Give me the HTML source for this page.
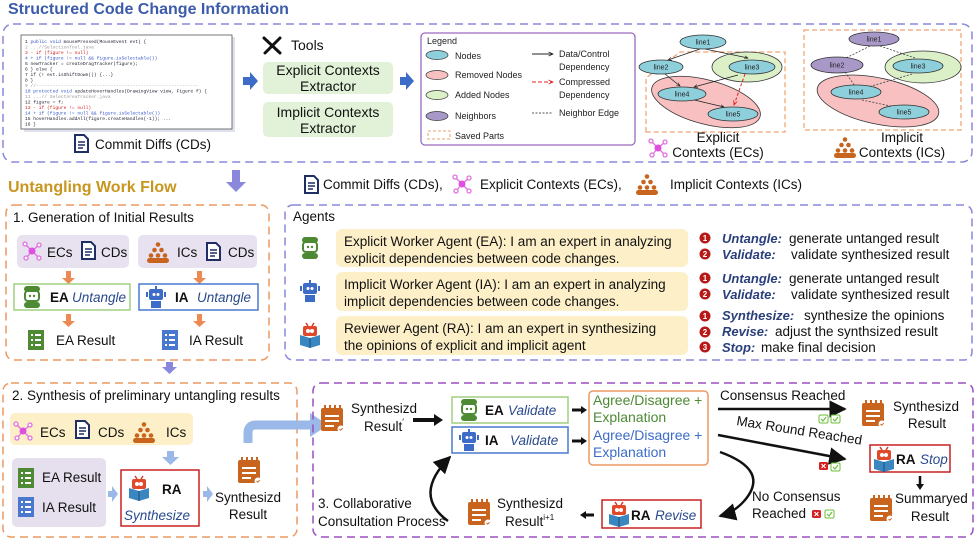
<!DOCTYPE html>
<html><head><meta charset="utf-8"><style>
html,body{margin:0;padding:0;background:#fff;}
svg{display:block;font-family:"Liberation Sans",sans-serif;}
.t{font-size:13.5px;fill:#111;}
.s{font-size:9px;fill:#222;}
.n{font-size:7px;fill:#222;}
.iv{font-style:italic;fill:#2a4a8e;}
.lbl{font-style:italic;font-weight:bold;fill:#2a3f7a;font-size:13px;}
</style></head><body>
<svg width="976" height="540" viewBox="0 0 976 540" xmlns="http://www.w3.org/2000/svg">
<defs>
 <marker id="ah" viewBox="0 0 10 10" refX="9" refY="5" markerWidth="7" markerHeight="7" orient="auto"><path d="M0,0L10,5L0,10z" fill="#111"/></marker>
 <marker id="ahs" viewBox="0 0 10 10" refX="9" refY="5" markerWidth="5" markerHeight="5" orient="auto"><path d="M0,1L9,5L0,9" fill="none" stroke="#222" stroke-width="1.5"/></marker>
 <marker id="ahr" viewBox="0 0 10 10" refX="9" refY="5" markerWidth="5" markerHeight="5" orient="auto"><path d="M0,1L9,5L0,9" fill="none" stroke="#e02020" stroke-width="1.5"/></marker>
 <g id="doc"><path d="M1,1h9l4,4v13h-13z" fill="#fff" stroke="#1f2f66" stroke-width="2"/><path d="M4,8h7M4,11h7M4,14h5" stroke="#1f2f66" stroke-width="1.5"/></g>
 <g id="clip"><rect x="0" y="3" width="22" height="23" rx="2" fill="#c8641e"/><path d="M4,0v6M9,0v6M14,0v6M19,0v6" stroke="#c8641e" stroke-width="2"/><path d="M4,11h14M4,16h14M4,21h9" stroke="#fff" stroke-width="2"/><circle cx="20" cy="24" r="3.5" fill="#fff"/><path d="M18.5,24l1.2,1.2l2-2" stroke="#c8641e" stroke-width="1" fill="none"/></g>
 <g id="resg"><rect x="0" y="0" width="16" height="20" fill="#4e8a34"/><path d="M3,5h2M7,5h6M3,10h2M7,10h6M3,15h2M7,15h6" stroke="#fff" stroke-width="2"/></g>
 <g id="resb"><rect x="0" y="0" width="16" height="20" fill="#4a78cf"/><path d="M3,5h2M7,5h6M3,10h2M7,10h6M3,15h2M7,15h6" stroke="#fff" stroke-width="2"/></g>
 <g id="net"><g stroke="#e070e0" stroke-width="1.3" fill="#fff"><path d="M10,10L3,3M10,10L17,4M10,10L4,17M10,10L17,17" /><circle cx="3" cy="3" r="2"/><circle cx="17" cy="4" r="2"/><circle cx="4" cy="17" r="2"/><circle cx="17" cy="17" r="2"/></g><circle cx="10" cy="10" r="3.5" fill="#e050e0"/></g>
 <g id="ppl" fill="#c8641e"><circle cx="11" cy="2.5" r="2.3"/><circle cx="7.5" cy="8" r="2.3"/><circle cx="14.5" cy="8" r="2.3"/><circle cx="4" cy="13.5" r="2.3"/><circle cx="11" cy="13.5" r="2.3"/><circle cx="18" cy="13.5" r="2.3"/><rect x="0" y="16" width="22" height="5" rx="2.5"/></g>
 <g id="ea"><rect x="2" y="0" width="16" height="6" rx="3" fill="#4e8a34"/><rect x="3" y="5" width="14" height="10" rx="3" fill="#fff" stroke="#4e8a34" stroke-width="2"/><circle cx="8" cy="10" r="1.2" fill="#4e8a34"/><circle cx="12" cy="10" r="1.2" fill="#4e8a34"/><rect x="2" y="16" width="16" height="6" rx="3" fill="#4e8a34"/></g>
 <g id="ia"><rect x="9" y="0" width="2" height="4" fill="#3d6cc8"/><rect x="3" y="3" width="14" height="11" rx="2" fill="#3d6cc8"/><circle cx="8" cy="8.5" r="1.5" fill="#fff"/><circle cx="12" cy="8.5" r="1.5" fill="#fff"/><rect x="0" y="6" width="2" height="5" fill="#3d6cc8"/><rect x="18" y="6" width="2" height="5" fill="#3d6cc8"/><rect x="5" y="15" width="10" height="7" fill="#3d6cc8"/></g>
 <g id="ra"><path d="M6,0l2,3M14,0l-2,3" stroke="#d23a2a" stroke-width="1.5"/><rect x="3" y="3" width="14" height="10" rx="2" fill="#e04a2a"/><circle cx="8" cy="8" r="2" fill="#fff"/><circle cx="12" cy="8" r="2" fill="#fff"/><path d="M0,12l10,3l10,-3v10l-10,3l-10,-3z" fill="#3a86c0"/><path d="M10,15v10" stroke="#1a4a7a"/></g>
 <g id="ck"><rect width="9" height="8" rx="1.5" fill="#fff" stroke="#6cbf3a"/><path d="M2,4l2,2l3,-4" stroke="#6cbf3a" fill="none" stroke-width="1.2"/></g>
 <g id="cx"><rect width="9" height="8" rx="1.5" fill="#d42020"/><path d="M2.5,2l4,4M6.5,2l-4,4" stroke="#fff" stroke-width="1.2"/></g>
 <g id="num"><circle r="5.5" fill="#b81818"/></g>
</defs>

<text x="8" y="14" font-size="16" font-weight="bold" fill="#3c5bab">Structured Code Change Information</text>
<rect x="3" y="24" width="969" height="138" rx="10" fill="none" stroke="#8a88dc" stroke-width="1.5" stroke-dasharray="8,5"/>

<rect x="24" y="37" width="211" height="95" fill="#dfe2ee"/>
<rect x="21" y="35" width="211" height="94" fill="#fff" stroke="#555" stroke-width="0.8"/>
<g font-family="Liberation Mono,monospace" font-size="4.6" fill="#223">
<text x="25" y="43">1  <tspan fill="#3355cc">public void</tspan> mousePressed(MouseEvent evt) {</text>
<text x="25" y="48.5" fill="#999">2      ...//SelectionTool.java</text>
<text x="25" y="54" fill="#d02020">3  - if (figure != null)</text>
<text x="25" y="59.5" fill="#3355cc">4  + if (figure != null &amp;&amp; figure.isSelectable())</text>
<text x="25" y="65">5          newTracker = createDragTracker(figure);</text>
<text x="25" y="70.5">6      } else {</text>
<text x="25" y="76">7          if (! evt.isShiftDown()) {...}</text>
<text x="25" y="81.5">8  }</text>
<text x="25" y="87" fill="#999">9  //-----------------------------------------------------------</text>
<text x="25" y="92.5"><tspan fill="#3355cc">10 protected void</tspan> updateHoverHandles(DrawingView view, Figure f) {</text>
<text x="25" y="98" fill="#999">11     ...// SelectAreaTracker.java</text>
<text x="25" y="103.5">12   figure = f;</text>
<text x="25" y="109" fill="#d02020">13 - if (figure != null)</text>
<text x="25" y="114.5" fill="#3355cc">14 + if (figure != null &amp;&amp; figure.isSelectable())</text>
<text x="25" y="120">15       hoverHandles.addAll(figure.createHandles(-1)); ...</text>
<text x="25" y="125.5">16 }</text>
</g>
<use href="#doc" x="74" y="134"/>
<text x="95" y="149" class="t">Commit Diffs (CDs)</text>

<g stroke="#111" stroke-width="3" stroke-linecap="round"><path d="M264,38L280,53M280,38L265,53"/></g>
<text x="291" y="50" font-size="14" fill="#111">Tools</text>
<rect x="263" y="62" width="130" height="32" rx="5" fill="#e2f2d8"/>
<text x="328" y="75" font-size="14" text-anchor="middle" fill="#111">Explicit Contexts</text>
<text x="328" y="91" font-size="14" text-anchor="middle" fill="#111">Extractor</text>
<rect x="263" y="102" width="130" height="35" rx="5" fill="#e2f2d8"/>
<text x="328" y="117" font-size="14" text-anchor="middle" fill="#111">Implicit Contexts</text>
<text x="328" y="133" font-size="14" text-anchor="middle" fill="#111">Extractor</text>
<path d="M243,77h7v-5l8,9l-8,9v-5h-7z" fill="#3d6cc8"/>
<path d="M400,77h6v-5l8,9l-8,9v-5h-6z" fill="#3d6cc8"/>

<rect x="421" y="33" width="214" height="112" rx="4" fill="#fff" stroke="#9a6ac0" stroke-width="1.3"/>
<text x="427" y="44" class="s">Legend</text>
<ellipse cx="437" cy="55" rx="11" ry="4.5" fill="#8ecfdc" stroke="#333" stroke-width="0.7"/><text x="455" y="59" class="s">Nodes</text>
<ellipse cx="437" cy="75" rx="11" ry="4.5" fill="#f8c0c0" stroke="#333" stroke-width="0.7"/><text x="455" y="78" class="s">Removed Nodes</text>
<ellipse cx="437" cy="95" rx="11" ry="4.5" fill="#dcf0c8" stroke="#333" stroke-width="0.7"/><text x="455" y="98" class="s">Added Nodes</text>
<ellipse cx="437" cy="116" rx="11" ry="4.5" fill="#a898c8" stroke="#333" stroke-width="0.7"/><text x="455" y="119" class="s">Neighbors</text>
<rect x="428" y="131" width="22" height="8" fill="none" stroke="#f0a070" stroke-dasharray="3,2"/><text x="455" y="139" class="s">Saved Parts</text>
<path d="M532,54h21" stroke="#222" marker-end="url(#ahs)"/><text x="559" y="57" class="s">Data/Control</text><text x="559" y="70" class="s">Dependency</text>
<path d="M532,82h21" stroke="#e02020" stroke-dasharray="4,2" marker-end="url(#ahr)"/><text x="559" y="85" class="s">Compressed</text><text x="559" y="98" class="s">Dependency</text>
<path d="M532,113h21" stroke="#555" stroke-dasharray="2,1.5"/><text x="559" y="116" class="s">Neighbor Edge</text>

<path d="M646,132V78L680,52H785V132z" fill="none" stroke="#f0a070" stroke-width="1.2" stroke-dasharray="5,3"/>
<ellipse cx="706" cy="102" rx="56" ry="22" transform="rotate(15 706 102)" fill="#f8c0c0" stroke="#333" stroke-width="0.8"/>
<ellipse cx="747" cy="67" rx="35" ry="15" fill="#dcf0c8" stroke="#333" stroke-width="0.8"/>
<g stroke="#222" stroke-width="0.8" fill="none">
<path d="M700,49L668,60" marker-end="url(#ahs)"/><path d="M705,49L748,58" marker-end="url(#ahs)"/>
<path d="M665,74L680,86" marker-end="url(#ahs)"/><path d="M738,75L694,87" marker-end="url(#ahs)"/>
<path d="M690,99L724,107" marker-end="url(#ahs)"/>
</g>
<path d="M745,74L734,105" stroke="#e02020" stroke-dasharray="3,2" fill="none" marker-end="url(#ahr)"/>
<g fill="#8ecfdc" stroke="#333" stroke-width="0.8">
<ellipse cx="703" cy="42" rx="23" ry="7"/><ellipse cx="661" cy="67" rx="22" ry="7"/><ellipse cx="752" cy="67" rx="23" ry="7"/><ellipse cx="682" cy="94" rx="24" ry="7"/><ellipse cx="733" cy="114" rx="25" ry="7"/>
</g>
<g class="n" text-anchor="middle"><text x="703" y="44.5">line1</text><text x="661" y="69.5">line2</text><text x="752" y="69.5">line3</text><text x="682" y="96.5">line4</text><text x="733" y="116.5">line5</text></g>
<use href="#net" x="648" y="138"/>
<text x="718" y="142" text-anchor="middle" class="t" font-size="13">Explicit</text>
<text x="718" y="157" text-anchor="middle" class="t" font-size="13">Contexts (ECs)</text>

<rect x="804" y="30" width="157" height="100" fill="none" stroke="#f0a070" stroke-width="1.2" stroke-dasharray="5,3"/>
<ellipse cx="878" cy="101" rx="62" ry="23" transform="rotate(12 878 101)" fill="#f8c0c0" stroke="#333" stroke-width="0.8"/>
<ellipse cx="923" cy="67" rx="38" ry="16" fill="#dcf0c8" stroke="#333" stroke-width="0.8"/>
<g stroke="#444" stroke-width="0.8" stroke-dasharray="2,1.5"><path d="M870,46L842,60M880,46L915,58M845,72L855,86M912,74L865,88M862,100L900,108"/></g>
<ellipse cx="874" cy="39" rx="25" ry="7" fill="#a898c8" stroke="#333" stroke-width="0.8"/>
<ellipse cx="837" cy="65" rx="26" ry="8" fill="#a898c8" stroke="#333" stroke-width="0.8"/>
<g fill="#8ecfdc" stroke="#333" stroke-width="0.8"><ellipse cx="918" cy="66" rx="25" ry="7"/><ellipse cx="856" cy="92" rx="25" ry="7"/><ellipse cx="904" cy="112" rx="25" ry="7"/></g>
<g class="n" text-anchor="middle"><text x="874" y="41.5">line1</text><text x="837" y="67.5">line2</text><text x="918" y="68.5">line3</text><text x="856" y="94.5">line4</text><text x="904" y="114.5">line5</text></g>
<use href="#ppl" x="834" y="137"/>
<text x="902" y="142" text-anchor="middle" class="t" font-size="13">Implicit</text>
<text x="902" y="157" text-anchor="middle" class="t" font-size="13">Contexts (ICs)</text>

<text x="8" y="192" font-size="16" font-weight="bold" fill="#c8961e">Untangling Work Flow</text>
<path d="M232,170h8v12h6l-10,10l-10,-10h6z" fill="#8a88dc"/>
<use href="#doc" x="304" y="175"/>
<text x="323" y="189" class="t" font-size="14">Commit Diffs (CDs),</text>
<use href="#net" x="452" y="174"/>
<text x="480" y="189" class="t" font-size="14">Explicit Contexts (ECs),</text>
<use href="#ppl" x="636" y="174"/>
<text x="670" y="189" class="t" font-size="14">Implicit Contexts (ICs)</text>

<rect x="6" y="205" width="263" height="155" rx="8" fill="none" stroke="#ec9a62" stroke-width="1.5" stroke-dasharray="8,5"/>
<text x="13" y="222" class="t">1. Generation of Initial Results</text>
<rect x="17" y="235" width="112" height="33" rx="5" fill="#e8e2f0"/>
<rect x="138" y="235" width="119" height="33" rx="5" fill="#e8e2f0"/>
<use href="#net" x="22" y="241"/><text x="47" y="257" class="t" font-size="14">ECs</text>
<use href="#doc" x="81" y="241"/><text x="101" y="257" class="t" font-size="14">CDs</text>
<use href="#ppl" x="147" y="242"/><text x="177" y="257" class="t" font-size="14">ICs</text>
<use href="#doc" x="206" y="242"/><text x="228" y="257" class="t" font-size="14">CDs</text>
<path d="M66,271h5v7h4l-6.5,6l-6.5,-6h4z" fill="#ec8a52"/>
<path d="M197,271h5v7h4l-6.5,6l-6.5,-6h4z" fill="#ec8a52"/>
<rect x="14" y="284" width="116" height="26" fill="#fff" stroke="#a0d080" stroke-width="1.5"/>
<use href="#ea" x="22" y="286"/><text x="50" y="302" class="t" font-size="14" font-weight="bold">EA</text><text x="72" y="302" class="t iv" font-size="14">Untangle</text>
<rect x="139" y="284" width="119" height="26" fill="#fff" stroke="#4a78cf" stroke-width="1.5"/>
<use href="#ia" x="146" y="286"/><text x="175" y="302" class="t" font-size="14" font-weight="bold">IA</text><text x="197" y="302" class="t iv" font-size="14">Untangle</text>
<path d="M66,314h5v7h4l-6.5,6l-6.5,-6h4z" fill="#ec8a52"/>
<path d="M197,314h5v7h4l-6.5,6l-6.5,-6h4z" fill="#ec8a52"/>
<use href="#resg" x="28" y="330"/><text x="56" y="345" class="t" font-size="14">EA Result</text>
<use href="#resb" x="162" y="330"/><text x="189" y="345" class="t" font-size="14">IA Result</text>
<path d="M166,362h7v5h4l-7.5,7l-7.5,-7h4z" fill="#8a88dc"/>

<rect x="285" y="205" width="687" height="155" rx="8" fill="none" stroke="#8a88dc" stroke-width="1.5" stroke-dasharray="8,5"/>
<text x="293" y="221" class="t">Agents</text>
<rect x="336" y="229" width="352" height="38" rx="6" fill="#fdf0c8"/>
<rect x="336" y="272" width="352" height="39" rx="6" fill="#fdf0c8"/>
<rect x="336" y="316" width="352" height="39" rx="6" fill="#fdf0c8"/>
<use href="#ea" x="300" y="237"/><use href="#ia" x="300" y="280"/><use href="#ra" x="300" y="323"/>
<text x="344" y="246" class="t">Explicit Worker Agent (EA): I am an expert in analyzing</text>
<text x="344" y="263" class="t">explicit dependencies between code changes.</text>
<text x="344" y="289" class="t">Implicit Worker Agent (IA): I am an expert in analyzing</text>
<text x="344" y="306" class="t">implicit dependencies between code changes.</text>
<text x="344" y="333" class="t">Reviewer Agent (RA): I am an expert in synthesizing</text>
<text x="344" y="350" class="t">the opinions of explicit and implicit agent</text>
<g font-size="8" font-weight="bold" fill="#fff" text-anchor="middle">
<use href="#num" x="705" y="238"/><text x="705" y="241">1</text>
<use href="#num" x="705" y="254"/><text x="705" y="257">2</text>
<use href="#num" x="705" y="278"/><text x="705" y="281">1</text>
<use href="#num" x="705" y="294"/><text x="705" y="297">2</text>
<use href="#num" x="705" y="316"/><text x="705" y="319">1</text>
<use href="#num" x="705" y="332"/><text x="705" y="335">2</text>
<use href="#num" x="705" y="347"/><text x="705" y="350">3</text>
</g>
<text x="722" y="243" class="lbl">Untangle:</text><text x="789" y="243" class="t" font-size="13">generate untanged result</text>
<text x="722" y="259" class="lbl">Validate:</text><text x="791" y="259" class="t" font-size="13">validate synthesized result</text>
<text x="722" y="283" class="lbl">Untangle:</text><text x="789" y="283" class="t" font-size="13">generate untanged result</text>
<text x="722" y="299" class="lbl">Validate:</text><text x="791" y="299" class="t" font-size="13">validate synthesized result</text>
<text x="722" y="320" class="lbl">Synthesize:</text><text x="804" y="320" class="t" font-size="13">synthesize the opinions</text>
<text x="722" y="336" class="lbl">Revise:</text><text x="775" y="336" class="t" font-size="13">adjust the synthsized result</text>
<text x="722" y="352" class="lbl">Stop:</text><text x="761" y="352" class="t" font-size="13">make final decision</text>

<rect x="3" y="383" width="294" height="154" rx="8" fill="none" stroke="#ec9a62" stroke-width="1.5" stroke-dasharray="8,5"/>
<text x="12" y="400" class="t" font-size="14">2. Synthesis of preliminary untangling results</text>
<rect x="10" y="413" width="183" height="32" rx="5" fill="#fdf0c8"/>
<use href="#net" x="13" y="421"/><text x="40" y="437" class="t" font-size="14">ECs</text>
<use href="#doc" x="75" y="420"/><text x="98" y="437" class="t" font-size="14">CDs</text>
<use href="#ppl" x="133" y="422"/><text x="166" y="437" class="t" font-size="14">ICs</text>
<path d="M167,451h7v6h5l-8.5,8l-8.5,-8h5z" fill="#9ab8e8"/>
<rect x="12" y="458" width="94" height="69" rx="5" fill="#e6e0ee"/>
<use href="#resg" x="18" y="468"/><text x="42" y="482" class="t" font-size="14">EA Result</text>
<use href="#resb" x="18" y="497"/><text x="42" y="512" class="t" font-size="14">IA Result</text>
<path d="M108,491h4v-5l6,8l-6,8v-5h-4z" fill="#9ab8e8"/>
<rect x="121" y="470" width="78" height="56" fill="#fff" stroke="#c82020" stroke-width="1.5"/>
<use href="#ra" x="129" y="476"/><text x="162" y="494" class="t" font-size="14" font-weight="bold">RA</text>
<text x="124" y="520" class="t iv" font-size="14">Synthesize</text>
<path d="M203,491h4v-5l6,8l-6,8v-5h-4z" fill="#9ab8e8"/>
<use href="#clip" x="238" y="457"/>
<text x="248" y="502" class="t" font-size="14" text-anchor="middle">Synthesizd</text>
<text x="248" y="519" class="t" font-size="14" text-anchor="middle">Result</text>
<path d="M248,443V433Q248,425 256,425H312" fill="none" stroke="#9ab8e8" stroke-width="9"/>
<path d="M310,413L328,425L310,437z" fill="#9ab8e8"/>

<rect x="313" y="383" width="660" height="154" rx="8" fill="none" stroke="#9a50c0" stroke-width="1.5" stroke-dasharray="8,5"/>
<use href="#clip" x="321" y="405"/>
<text x="351" y="413" class="t" font-size="14">Synthesizd</text>
<text x="364" y="431" class="t" font-size="14">Result<tspan font-size="9" dy="-6">′</tspan></text>
<path d="M413,420H436" stroke="#111" stroke-width="4"/><path d="M434,414L443,420L434,426z" fill="#111"/>
<rect x="452" y="397" width="116" height="26" fill="#fff" stroke="#a0d080" stroke-width="1.5"/>
<use href="#ea" x="459" y="399"/><text x="485" y="415" class="t" font-size="14" font-weight="bold">EA</text><text x="508" y="415" class="t iv" font-size="14">Validate</text>
<rect x="452" y="427" width="116" height="26" fill="#fff" stroke="#4a78cf" stroke-width="1.5"/>
<use href="#ia" x="459" y="429"/><text x="485" y="445" class="t" font-size="14" font-weight="bold">IA</text><text x="510" y="445" class="t iv" font-size="14">Validate</text>
<path d="M572,410H582" stroke="#111" stroke-width="3"/><path d="M581,406L587,410L581,414z" fill="#111"/>
<path d="M572,441H582" stroke="#111" stroke-width="3"/><path d="M581,437L587,441L581,445z" fill="#111"/>
<rect x="589" y="391" width="119" height="74" rx="4" fill="#fff" stroke="#ec9a62" stroke-width="1.5"/>
<text x="593" y="405" font-size="14" fill="#4e8a34">Agree/Disagree +</text>
<text x="593" y="422" font-size="14" fill="#4e8a34">Explanation</text>
<text x="593" y="440" font-size="14" fill="#3d6cc8">Agree/Disagree +</text>
<text x="593" y="457" font-size="14" fill="#3d6cc8">Explanation</text>
<text x="720" y="400" class="t" font-size="13.5">Consensus Reached</text>
<path d="M718,409H845" stroke="#111" stroke-width="2.5" marker-end="url(#ah)"/>
<use href="#ck" x="819" y="415"/><use href="#ck" x="831" y="415"/>
<text x="736" y="425" class="t" font-size="13.5" transform="rotate(9 736 425)">Max Round Reached</text>
<path d="M718,435L845,459" stroke="#111" stroke-width="2.5" marker-end="url(#ah)"/>
<use href="#cx" x="819" y="462"/><use href="#ck" x="831" y="463"/>
<path d="M720,452Q770,470 745,500Q735,512 720,516" fill="none" stroke="#111" stroke-width="2.5" marker-end="url(#ah)"/>
<text x="752" y="501" class="t" font-size="13.5">No Consensus</text>
<text x="752" y="518" class="t" font-size="13.5">Reached</text>
<use href="#cx" x="812" y="510"/><use href="#ck" x="825" y="510"/>
<use href="#clip" x="862" y="400"/>
<text x="893" y="411" class="t" font-size="14">Synthesizd</text>
<text x="927" y="428" class="t" font-size="14" text-anchor="middle">Result</text>
<rect x="870" y="445" width="80" height="27" fill="#fff" stroke="#c82020" stroke-width="1.5"/>
<use href="#ra" x="874" y="447"/><text x="896" y="464" class="t" font-size="14" font-weight="bold">RA</text><text x="920" y="464" class="t iv" font-size="14">Stop</text>
<path d="M920,476V485" stroke="#111" stroke-width="2.5"/><path d="M916,484L920,490L924,484z" fill="#111"/>
<use href="#clip" x="870" y="495"/>
<text x="895" y="503" class="t" font-size="14">Summaryed</text>
<text x="930" y="521" class="t" font-size="14" text-anchor="middle">Result</text>
<rect x="602" y="500" width="99" height="28" fill="#fff" stroke="#c82020" stroke-width="1.5"/>
<use href="#ra" x="609" y="502"/><text x="631" y="520" class="t" font-size="14" font-weight="bold">RA</text><text x="655" y="520" class="t iv" font-size="14">Revise</text>
<path d="M594,515H585" stroke="#111" stroke-width="3"/><path d="M586,511L580,515L586,519z" fill="#111"/>
<use href="#clip" x="468" y="499"/>
<text x="497" y="508" class="t" font-size="14">Synthesizd</text>
<text x="505" y="526" class="t" font-size="14">Result<tspan font-size="8" dy="-6">i+1</tspan></text>
<path d="M448,521Q412,495 450,457" fill="none" stroke="#111" stroke-width="2.5" marker-end="url(#ah)"/>
<text x="318" y="508" class="t" font-size="14">3. Collaborative</text>
<text x="318" y="526" class="t" font-size="14">Consultation Process</text>
</svg>
</body></html>
